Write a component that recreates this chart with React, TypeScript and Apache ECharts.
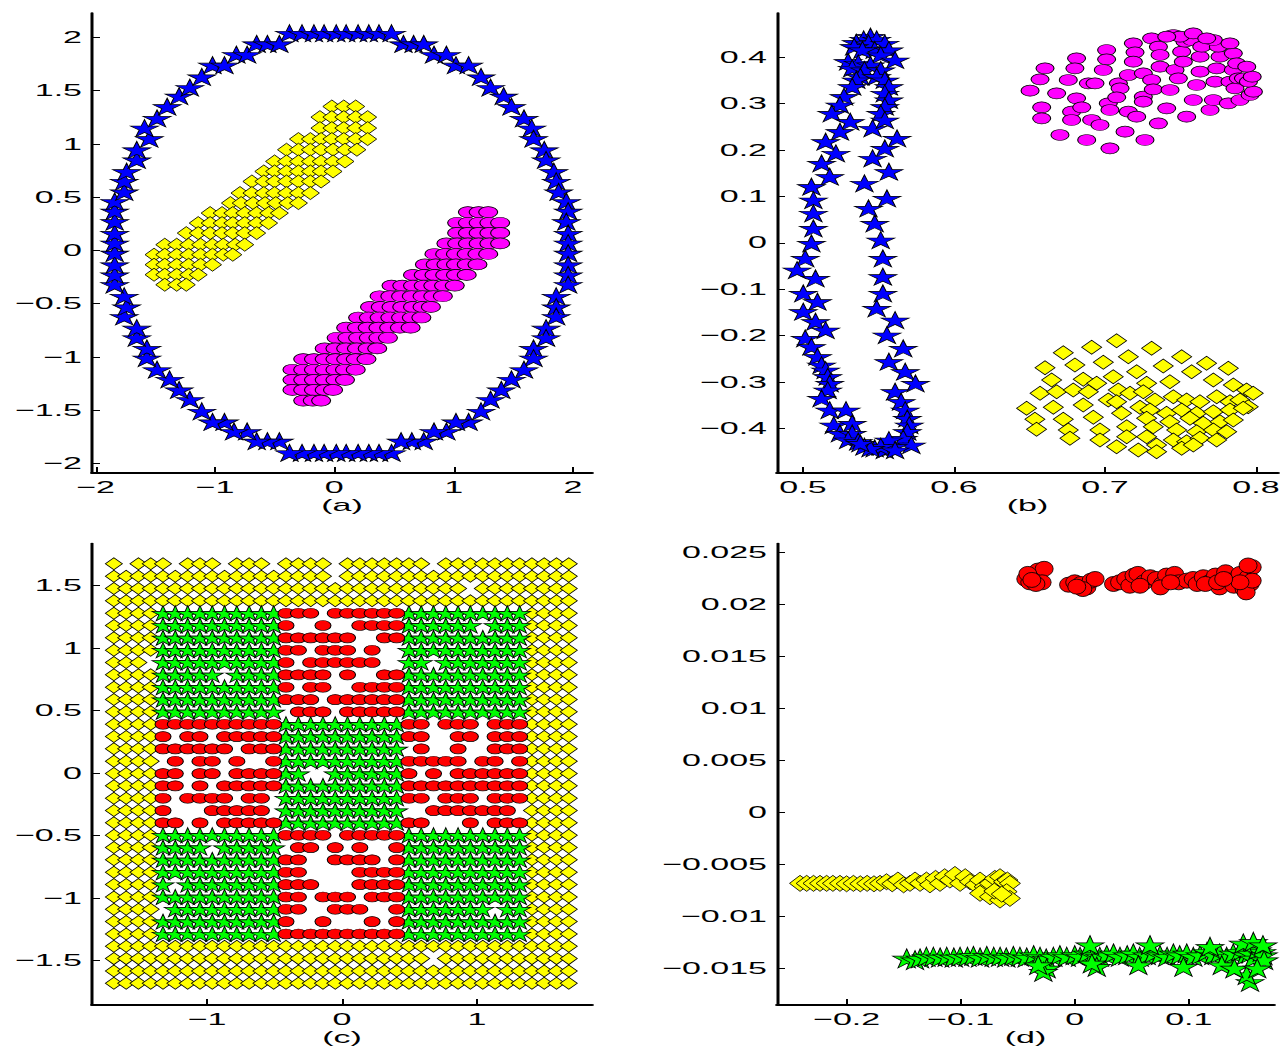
import React, { useEffect, useRef } from 'react';
import * as echarts from 'echarts';

// ---------- shared look ----------
const FONT = '"Liberation Sans", Arial, Helvetica, sans-serif';
const STRETCH = 2; // the reference figure is stretched horizontally
const STAR = 'path://M0,-10L2.245,-3.09L9.511,-3.09L3.633,1.18L5.878,8.09L0,3.82L-5.878,8.09L-3.633,1.18L-9.511,-3.09L-2.245,-3.09Z';
const ELLIPSE = 'path://M0,5A5,5 0 1,1 10,5A5,5 0 1,1 0,5Z';

// ---------- tick values ----------
const TICKS_A_X = [-2, -1, 0, 1, 2];
const TICKS_A_Y = [-2, -1.5, -1, -0.5, 0, 0.5, 1, 1.5, 2];
const TICKS_B_X = [0.5, 0.6, 0.7, 0.8];
const TICKS_B_Y = [-0.4, -0.3, -0.2, -0.1, 0, 0.1, 0.2, 0.3, 0.4];
const TICKS_C_X = [-1, 0, 1];
const TICKS_C_Y = [-1.5, -1, -0.5, 0, 0.5, 1, 1.5];
const TICKS_D_X = [-0.2, -0.1, 0, 0.1];
const TICKS_D_Y = [-0.015, -0.01, -0.005, 0, 0.005, 0.01, 0.015, 0.02, 0.025];
const CAPTIONS = ['(a)', '(b)', '(c)', '(d)'];

// ---------- (a) ----------
const STARS_A: number[][] = [
  [-0.375, 2.04], [-0.27, 2.04], [-0.17, 2.04], [-0.085, 2.04], [0.017, 2.04], [0.1, 2.04], [0.2, 2.04], [0.29, 2.04], [0.375, 2.04], [0.48, 2.04],
  [0.58, 1.94], [0.665, 1.94], [0.75, 1.94], [0.836, 1.84], [0.94, 1.84], [1.02, 1.74], [1.126, 1.74],
  [1.23, 1.63], [1.31, 1.53], [1.42, 1.45], [1.485, 1.35], [1.59, 1.24], [1.655, 1.15], [1.67, 1.05], [1.76, 0.945], [1.775, 0.85],
  [1.84, 0.74], [1.86, 0.65], [1.88, 0.55], [1.945, 0.46], [1.96, 0.37], [1.945, 0.27], [1.96, 0.16], [1.96, 0.07], [1.96, -0.025],
  [1.96, -0.135], [1.96, -0.23], [1.96, -0.32], [1.86, -0.43], [1.86, -0.53], [1.86, -0.62], [1.775, -0.73], [1.775, -0.82],
  [1.67, -0.92], [1.67, -1.01], [1.59, -1.12], [1.485, -1.21], [1.4, -1.31], [1.31, -1.4], [1.23, -1.51], [1.126, -1.61], [1.02, -1.61],
  [0.94, -1.7], [0.836, -1.7], [0.75, -1.79], [0.65, -1.79], [0.56, -1.79],
  [0.48, -1.9], [0.375, -1.9], [0.29, -1.9], [0.2, -1.9], [0.1, -1.9], [0.017, -1.9], [-0.085, -1.9], [-0.17, -1.9], [-0.27, -1.9], [-0.375, -1.9],
  [-0.46, -1.79], [-0.56, -1.79], [-0.65, -1.79], [-0.73, -1.7], [-0.84, -1.7], [-0.92, -1.61], [-1.02, -1.61], [-1.11, -1.51],
  [-1.21, -1.4], [-1.3, -1.31], [-1.38, -1.21], [-1.485, -1.12], [-1.57, -1.01], [-1.57, -0.92], [-1.655, -0.82], [-1.655, -0.73],
  [-1.76, -0.62], [-1.74, -0.53], [-1.76, -0.43],
  [-1.84, -0.32], [-1.84, -0.23], [-1.84, -0.135], [-1.84, -0.025], [-1.84, 0.07], [-1.84, 0.16], [-1.84, 0.27], [-1.84, 0.37], [-1.84, 0.46],
  [-1.76, 0.55], [-1.76, 0.65], [-1.74, 0.74], [-1.655, 0.85], [-1.655, 0.945], [-1.55, 1.05], [-1.59, 1.15], [-1.485, 1.24],
  [-1.4, 1.35], [-1.3, 1.45], [-1.21, 1.53], [-1.11, 1.63], [-1.02, 1.74], [-0.92, 1.74], [-0.82, 1.84], [-0.73, 1.84],
  [-0.65, 1.94], [-0.56, 1.94], [-0.46, 1.94],
];

// rows: [y, x values]
const DIAMOND_ROWS_A: [number, number[]][] = [
  [1.352, [-0.02, 0.08, 0.18]],
  [1.252, [-0.12, -0.02, 0.08, 0.18, 0.28]],
  [1.149, [-0.12, -0.02, 0.08, 0.18, 0.28]],
  [1.046, [-0.3, -0.2, -0.11, -0.02, 0.08, 0.18, 0.28]],
  [0.946, [-0.4, -0.3, -0.2, -0.11, -0.01, 0.09, 0.19]],
  [0.836, [-0.5, -0.4, -0.3, -0.2, -0.11, -0.01, 0.09]],
  [0.742, [-0.59, -0.5, -0.4, -0.3, -0.2, -0.11, -0.01]],
  [0.648, [-0.69, -0.59, -0.5, -0.4, -0.3, -0.2, -0.11]],
  [0.539, [-0.79, -0.69, -0.59, -0.5, -0.4, -0.3, -0.2]],
  [0.445, [-0.87, -0.78, -0.68, -0.58, -0.49, -0.39, -0.3]],
  [0.351, [-1.04, -0.94, -0.85, -0.75, -0.65, -0.55, -0.46]],
  [0.257, [-1.14, -1.04, -0.94, -0.85, -0.75, -0.65, -0.55]],
  [0.163, [-1.24, -1.14, -1.04, -0.94, -0.85, -0.75, -0.65]],
  [0.054, [-1.42, -1.32, -1.22, -1.12, -1.02, -0.93, -0.83, -0.75]],
  [-0.04, [-1.51, -1.42, -1.32, -1.22, -1.12, -1.02, -0.93, -0.85]],
  [-0.134, [-1.51, -1.42, -1.32, -1.22, -1.12, -1.02]],
  [-0.228, [-1.51, -1.42, -1.32, -1.22, -1.14]],
  [-0.322, [-1.42, -1.32, -1.24]],
];

const CIRCLE_ROWS_A: [number, number[]][] = [
  [0.36, [1.12, 1.21, 1.29]],
  [0.26, [1.03, 1.12, 1.21, 1.3, 1.39]],
  [0.165, [1.03, 1.12, 1.21, 1.3, 1.39]],
  [0.066, [0.94, 1.03, 1.12, 1.21, 1.3, 1.39]],
  [-0.033, [0.84, 0.93, 1.02, 1.11, 1.2, 1.29]],
  [-0.131, [0.76, 0.85, 0.94, 1.02, 1.11, 1.2]],
  [-0.23, [0.66, 0.75, 0.84, 0.93, 1.02, 1.11]],
  [-0.33, [0.48, 0.57, 0.66, 0.75, 0.83, 0.92, 1.01]],
  [-0.43, [0.38, 0.47, 0.56, 0.65, 0.74, 0.83, 0.91]],
  [-0.53, [0.3, 0.39, 0.48, 0.57, 0.66, 0.74, 0.81]],
  [-0.63, [0.2, 0.29, 0.38, 0.47, 0.56, 0.65, 0.73]],
  [-0.725, [0.1, 0.19, 0.28, 0.37, 0.46, 0.55, 0.64]],
  [-0.82, [0.02, 0.11, 0.2, 0.29, 0.37, 0.45]],
  [-0.92, [-0.08, 0.01, 0.1, 0.19, 0.28, 0.36]],
  [-1.02, [-0.26, -0.17, -0.08, 0.01, 0.1, 0.18, 0.27]],
  [-1.12, [-0.35, -0.26, -0.17, -0.08, 0.01, 0.09, 0.18]],
  [-1.215, [-0.35, -0.26, -0.17, -0.08, 0.01, 0.09]],
  [-1.31, [-0.35, -0.26, -0.17, -0.08, -0.01]],
  [-1.41, [-0.26, -0.18, -0.11]],
];

// ---------- (b) ----------
const STARS_B: number[][] = [
  [0.5447, 0.4446], [0.5402, 0.4388], [0.5488, 0.4388], [0.5353, 0.4317], [0.5434, 0.4302], [0.5542, 0.4302], [0.5339, 0.423],
  [0.5475, 0.4158], [0.5394, 0.4158], [0.5569, 0.4158], [0.5515, 0.405], [0.561, 0.3942], [0.5299, 0.3907], [0.5366, 0.3871],
  [0.5447, 0.3835], [0.5326, 0.3763], [0.5407, 0.3727], [0.5515, 0.3727], [0.538, 0.3583], [0.5488, 0.3583], [0.5542, 0.3511],
  [0.5353, 0.3511], [0.5569, 0.3367], [0.5326, 0.3367], [0.5542, 0.3224], [0.5569, 0.308], [0.5272, 0.3152], [0.5245, 0.2972],
  [0.5542, 0.2936], [0.5515, 0.2792], [0.5191, 0.2792], [0.5313, 0.2613], [0.5461, 0.2469], [0.5542, 0.2648], [0.5245, 0.2397],
  [0.5623, 0.2253], [0.515, 0.2181], [0.5542, 0.2037], [0.5218, 0.193], [0.5461, 0.1822], [0.5123, 0.1714], [0.5569, 0.1534],
  [0.5177, 0.1426], [0.5407, 0.1283], [0.5056, 0.1211], [0.5556, 0.0959], [0.5069, 0.0923], [0.5434, 0.0743], [0.5069, 0.0636],
  [0.5475, 0.042], [0.5069, 0.0312], [0.5515, 0.006], [0.5056, -0.0011], [0.5015, -0.0335], [0.5529, -0.0335], [0.4961, -0.0587],
  [0.5083, -0.0766], [0.5529, -0.073], [0.5002, -0.109], [0.5529, -0.109], [0.5096, -0.127], [0.5488, -0.1413], [0.5002, -0.1485],
  [0.561, -0.1665], [0.5083, -0.1701], [0.5556, -0.1989], [0.515, -0.1881], [0.5015, -0.206], [0.5056, -0.224], [0.5664, -0.2276],
  [0.5096, -0.2456], [0.5569, -0.2564], [0.5123, -0.2636], [0.5677, -0.2779], [0.515, -0.2743], [0.5164, -0.2887], [0.5745, -0.3031],
  [0.5177, -0.3031], [0.5164, -0.3175], [0.561, -0.3211], [0.5123, -0.3354], [0.565, -0.3426], [0.5177, -0.3606], [0.5285, -0.3606],
  [0.5677, -0.3606], [0.5691, -0.3786], [0.5204, -0.393], [0.5326, -0.3893], [0.5704, -0.393], [0.5691, -0.4073], [0.5245, -0.4109],
  [0.5326, -0.4109], [0.5664, -0.4217], [0.5299, -0.4253], [0.5366, -0.4289], [0.5718, -0.4361], [0.5407, -0.4397], [0.5475, -0.4433],
  [0.5542, -0.4469], [0.5596, -0.4397], [0.5569, -0.4253], [0.5515, -0.4397], [0.5447, -0.4433], [0.538, -0.4325], [0.561, -0.4469],
];

const CIRCLES_B: number[][] = [
  [0.6504, 0.328], [0.6603, 0.3762], [0.657, 0.3525], [0.6581, 0.2921], [0.6581, 0.2684], [0.6702, 0.2325], [0.668, 0.3223],
  [0.6757, 0.3511], [0.6812, 0.3978], [0.6801, 0.3762], [0.6812, 0.3115], [0.6779, 0.2828], [0.6779, 0.2648], [0.6879, 0.2217],
  [0.689, 0.3439], [0.6934, 0.3439], [0.6846, 0.2921], [0.6912, 0.2648], [0.6967, 0.254], [0.7033, 0.2037], [0.7011, 0.4157],
  [0.7011, 0.3956], [0.6989, 0.3726], [0.7022, 0.3007], [0.7033, 0.2864], [0.7089, 0.3439], [0.71, 0.3331], [0.7078, 0.3137],
  [0.7133, 0.2396], [0.7155, 0.3618], [0.7155, 0.2828], [0.721, 0.272], [0.7188, 0.4301], [0.7199, 0.4107], [0.7188, 0.3906],
  [0.7254, 0.3654], [0.7254, 0.3151], [0.7254, 0.3043], [0.7265, 0.2217], [0.7309, 0.3511], [0.732, 0.3309], [0.7354, 0.2576],
  [0.7309, 0.4409], [0.7354, 0.4229], [0.7365, 0.405], [0.7365, 0.3798], [0.7409, 0.29], [0.7431, 0.3295], [0.7464, 0.3726],
  [0.7486, 0.3547], [0.7541, 0.272], [0.7508, 0.4122], [0.7519, 0.3906], [0.753, 0.4337], [0.7574, 0.4373], [0.7607, 0.3403],
  [0.7585, 0.3079], [0.763, 0.369], [0.763, 0.4014], [0.7641, 0.4229], [0.7696, 0.2864], [0.7718, 0.3079], [0.7729, 0.3475],
  [0.774, 0.3762], [0.7762, 0.4014], [0.7751, 0.4229], [0.7817, 0.3007], [0.7828, 0.3475], [0.785, 0.3726], [0.785, 0.4086],
  [0.7861, 0.3331], [0.7872, 0.387], [0.7883, 0.3547], [0.7917, 0.3547], [0.7894, 0.3079], [0.7961, 0.3187], [0.7983, 0.3259],
  [0.795, 0.3475], [0.7975, 0.3582], [0.7939, 0.3798], [0.7718, 0.4373], [0.7828, 0.4301], [0.7453, 0.4481], [0.7497, 0.4445],
  [0.7409, 0.4445], [0.7585, 0.4517], [0.7674, 0.4409],
];

const DIAMONDS_B: number[][] = [
  [0.7077, -0.211], [0.6912, -0.2254], [0.6724, -0.2369], [0.7309, -0.2276], [0.7155, -0.2455], [0.7508, -0.2455], [0.7673, -0.2599],
  [0.7817, -0.2707], [0.6603, -0.2693], [0.6801, -0.2635], [0.6989, -0.2578], [0.721, -0.2779], [0.7386, -0.2657], [0.7574, -0.2779],
  [0.6647, -0.2959], [0.6856, -0.2944], [0.7055, -0.2887], [0.7276, -0.303], [0.743, -0.2995], [0.7718, -0.2959], [0.785, -0.3066],
  [0.7938, -0.3174], [0.7982, -0.3246], [0.657, -0.3246], [0.668, -0.321], [0.679, -0.3174], [0.689, -0.321], [0.6945, -0.303],
  [0.7088, -0.3174], [0.7166, -0.3246], [0.7254, -0.321], [0.7331, -0.339], [0.7453, -0.3318], [0.7541, -0.339], [0.7629, -0.3426],
  [0.774, -0.3318], [0.7828, -0.3426], [0.7894, -0.339], [0.7949, -0.3534], [0.6481, -0.357], [0.6658, -0.3548], [0.6856, -0.3498],
  [0.7022, -0.339], [0.7077, -0.3426], [0.7232, -0.3548], [0.7298, -0.3606], [0.7408, -0.3677], [0.7508, -0.3606], [0.7607, -0.3677],
  [0.7718, -0.3641], [0.7828, -0.3606], [0.7916, -0.357], [0.6536, -0.3807], [0.6724, -0.3807], [0.6923, -0.3764], [0.711, -0.3677],
  [0.7276, -0.3785], [0.743, -0.3857], [0.7563, -0.3785], [0.7651, -0.3893], [0.7762, -0.3857], [0.785, -0.3821], [0.6547, -0.4022],
  [0.6757, -0.4037], [0.6967, -0.4037], [0.7144, -0.3965], [0.732, -0.3965], [0.7475, -0.4037], [0.7607, -0.4073], [0.7718, -0.4037],
  [0.7806, -0.4073], [0.6768, -0.4216], [0.6967, -0.4252], [0.7144, -0.418], [0.7276, -0.418], [0.7342, -0.436], [0.7453, -0.4252],
  [0.7541, -0.4288], [0.7629, -0.4216], [0.774, -0.4252], [0.7221, -0.4468], [0.7342, -0.4504], [0.7077, -0.4396], [0.7508, -0.4432],
  [0.7585, -0.436],
];

// ---------- (c) : lattice ----------
const COLS_C = [
  -1.69, -1.599, -1.508, -1.417, -1.326, -1.235, -1.143, -1.052, -0.961, -0.87, -0.779, -0.688, -0.597, -0.506,
  -0.415, -0.323, -0.232, -0.141, -0.05, 0.041, 0.132, 0.223, 0.314, 0.405, 0.496, 0.587, 0.678, 0.769, 0.86,
  0.951, 1.043, 1.134, 1.225, 1.316, 1.407, 1.498, 1.589, 1.68,
];
const ROWS_C = [
  1.675, 1.576, 1.478, 1.379, 1.28, 1.182, 1.083, 0.984, 0.886, 0.787, 0.688, 0.589, 0.491, 0.392, 0.293, 0.195,
  0.096, -0.003, -0.101, -0.2, -0.299, -0.397, -0.496, -0.595, -0.693, -0.792, -0.891, -0.99, -1.088, -1.187,
  -1.286, -1.384, -1.483, -1.582, -1.68,
];
// d = yellow diamond, s = green star, o = red circle, . = empty
const MAP_C = [
  'd.dd|d.ddd.ddd.|dddd.ddddd|dd.ddddddd|dddd',
  'dddd|dddddddddd|dddd.ddddd|dddddddddd|dddd',
  'dddd|dddddddddd|dddddddddd|ddddd.dddd|dddd',
  'dddd|dddddddddd|dddddddddd|dddddddddd|dddd',
  'dddd|ssssssssss|ooo.oooooo|ssssssssss|dddd',
  'dddd|ssssssssss|o..o..oooo|ssssss.sss|dddd',
  'dddd|ssssssssss|oooooo..oo|ssssssssss|dddd',
  'dddd|ssssssssss|oo.ooo.o..|ssssssssss|dddd',
  'ddd.|ssssssssss|o.oooooo..|ss.sssssss|dddd',
  'dddd|sssss.ssss|oooo.o..oo|ssssssssss|dddd',
  'dddd|ssssssssss|o.oo..oooo|ssssssssss|dddd',
  'dddd|ssssssssss|ooo.oooooo|ssssssssss|dddd',
  'dddd|ssssssssss|.ooo.ooooo|ssssssssss|dddd',
  'dddd|oooooooooo|ssssssssss|oo.ooo.ooo|dddd',
  'dddd|o.oo.ooooo|ssssssssss|oo..oo.ooo|dddd',
  'dddd|oooooo.ooo|ssssssssss|.o..o..ooo|dddd',
  'dddd|.o.oo.o..o|ssssssssss|ooooo.oo.o|dddd',
  'dddd|oo.oo.oooo|ss..ssssss|o.o.oooooo|dddd',
  'dddd|oo.o.ooooo|ssssssssss|oooooooooo|dddd',
  'dddd|o.oooo.oo.|ssssssssss|oo.ooo.ooo|dddd',
  'dddd|o...ooooo.|ssssssssss|..ooooooo.|dddd',
  'dddd|oo.o.ooooo|ssssssssss|oo...o.ooo|dddd',
  'dddd|ssssssssss|oooo.ooooo|ssssssssss|dddd',
  'dddd|ssss.sssss|.oo.o.o..o|ssssssssss|dddd',
  'dddd|ssssssssss|oo..oooo.o|ssssssssss|dddd',
  'dddd|ssssssssss|oo....oooo|ssssssssss|dddd',
  'dddd|s.ssssssss|ooo...oooo|ssssssssss|dddd',
  'dddd|ssssssssss|oo.ooo.ooo|ssssssssss|dddd',
  'dddd|.sssssssss|oo..ooo..o|sssssss.ss|dddd',
  'dddd|ssssssssss|o..o...o.o|ssssssssss|dddd',
  'dddd|ssssssssss|oooooooooo|ssssssssss|dddd',
  'dddd|dddddddddd|dddddddddd|dddddddddd|dddd',
  'dddd|dddddddddd|dddddddddd|dd.ddddddd|dddd',
  'dddd|dddddddddd|dddddddddd|dddddddddd|dddd',
  'dddd|dddddddddd|dddddddddd|dddddddddd|dddd',
];

// ---------- (d) ----------
const CIRCLES_D: number[][] = [
  [-0.0429, 0.02247], [-0.0394, 0.02215], [-0.0358, 0.0228], [-0.0322, 0.02328], [-0.0268, 0.02345], [-0.0286, 0.02215],
  [-0.0411, 0.02296], [-0.034, 0.02199], [-0.0376, 0.02238],
  [-0.0054, 0.02192], [0.0, 0.02215], [0.0054, 0.02199], [0.0107, 0.02166], [0.0143, 0.02231], [0.0179, 0.02247],
  [0.0071, 0.0215], [0.0018, 0.02173],
  [0.034, 0.02199], [0.0393, 0.02215], [0.0447, 0.02247], [0.0483, 0.02182], [0.0519, 0.0228], [0.0554, 0.02296],
  [0.0608, 0.02215], [0.0662, 0.02264], [0.0715, 0.02247], [0.0769, 0.02199], [0.0805, 0.0228], [0.0876, 0.02296],
  [0.0912, 0.02215], [0.0983, 0.02231], [0.1038, 0.02247], [0.1073, 0.02199], [0.1127, 0.02264], [0.1181, 0.02215],
  [0.1234, 0.0228], [0.127, 0.02166], [0.1323, 0.02312], [0.1359, 0.02231], [0.1395, 0.02182], [0.1431, 0.02247],
  [0.1449, 0.02296], [0.1485, 0.0215], [0.152, 0.02264], [0.1538, 0.02199], [0.1556, 0.02361], [0.152, 0.02377],
  [0.1503, 0.02118], [0.1556, 0.02231], [0.0751, 0.02166], [0.0841, 0.02215], [0.0572, 0.02182], [0.1145, 0.02199],
  [0.1252, 0.02215], [0.1449, 0.02215], [0.1306, 0.02247],
];

const DIAMONDS_D: number[][] = [
  [-0.2408, -0.00686], [-0.235, -0.00686], [-0.229, -0.00686], [-0.2233, -0.00686], [-0.2175, -0.00686], [-0.212, -0.00686],
  [-0.2058, -0.00686], [-0.2, -0.0069], [-0.194, -0.00686], [-0.188, -0.0069], [-0.182, -0.00686], [-0.176, -0.0069],
  [-0.1707, -0.00686], [-0.165, -0.0067], [-0.16, -0.0069], [-0.155, -0.00654], [-0.15, -0.007], [-0.1444, -0.00686],
  [-0.14, -0.00654], [-0.1356, -0.00686], [-0.13, -0.00654], [-0.1269, -0.007], [-0.122, -0.00638], [-0.1181, -0.00686],
  [-0.114, -0.00622], [-0.1094, -0.00654], [-0.105, -0.006], [-0.1005, -0.00686], [-0.096, -0.00622], [-0.0918, -0.0067],
  [-0.087, -0.007], [-0.083, -0.00654], [-0.079, -0.00718], [-0.0743, -0.00686], [-0.07, -0.00638], [-0.0655, -0.00622],
  [-0.062, -0.0067], [-0.059, -0.00654], [-0.0568, -0.00686], [-0.083, -0.00782], [-0.0743, -0.00815], [-0.0655, -0.00847],
  [-0.0597, -0.00766], [-0.0568, -0.00831], [-0.0705, -0.0076], [-0.064, -0.0079],
];

const STARS_D: number[][] = [
  [-0.1473, -0.01409], [-0.14, -0.01425], [-0.1356, -0.01409], [-0.13, -0.01393], [-0.1239, -0.01393], [-0.118, -0.014],
  [-0.1122, -0.01393], [-0.106, -0.014], [-0.1005, -0.01393], [-0.094, -0.01393], [-0.0888, -0.01385], [-0.083, -0.014],
  [-0.0771, -0.01385], [-0.071, -0.01393], [-0.0654, -0.01393], [-0.06, -0.014], [-0.0538, -0.01385], [-0.048, -0.01393],
  [-0.0421, -0.014], [-0.036, -0.01377], [-0.0304, -0.01393], [-0.025, -0.01409], [-0.0187, -0.01393], [-0.013, -0.01377],
  [-0.007, -0.01393], [0.0, -0.01377], [0.0047, -0.01393], [0.011, -0.01361], [0.0164, -0.01377], [0.022, -0.01393],
  [0.0281, -0.01377], [0.034, -0.01361], [0.0397, -0.01393], [0.046, -0.01377], [0.0514, -0.01361], [0.057, -0.01393],
  [0.0631, -0.01377], [0.069, -0.01361], [0.0748, -0.01377], [0.081, -0.01393], [0.0865, -0.01361], [0.092, -0.01377],
  [0.0982, -0.01361], [0.104, -0.01393], [0.1099, -0.01377], [0.116, -0.01345], [0.1215, -0.01377], [0.127, -0.01361],
  [0.1332, -0.01393], [0.139, -0.01361], [0.1449, -0.01345], [0.15, -0.01377], [0.154, -0.01361], [0.1566, -0.01409],
  [0.16, -0.01329], [0.164, -0.01345], [0.1654, -0.01377], [0.166, -0.01425],
  [-0.0246, -0.01505], [-0.0275, -0.01537], [0.0193, -0.01489], [0.0558, -0.01473], [0.0953, -0.01489], [0.1289, -0.01473],
  [0.1537, -0.01634], [0.1508, -0.0157], [-0.032, -0.01473], [0.015, -0.01457], [0.14, -0.01505], [0.16, -0.01505],
  [0.0134, -0.01281], [0.066, -0.01281], [0.1186, -0.01297], [0.1478, -0.01265], [0.1566, -0.01249], [0.165, -0.01281],
];

// ---------- helpers ----------
function fromRows(rows: [number, number[]][]) {
  const out: number[][] = [];
  rows.forEach(([y, xs]) => xs.forEach((x) => out.push([x, y])));
  return out;
}
function fromMap(ch: string) {
  const out: number[][] = [];
  MAP_C.forEach((row, i) => {
    const r = row.replace(/\|/g, '');
    for (let j = 0; j < r.length; j++) if (r[j] === ch) out.push([COLS_C[j], ROWS_C[i]]);
  });
  return out;
}
const fmt = (v: number) => String(v).replace('-', '\u2212');
const textStyle = { fontSize: 17, color: '#000', fontFamily: FONT };

function xAxis(gridIndex: number, min: number, max: number, ticks: number[], name: string) {
  return {
    type: 'value', gridIndex, min, max, name, nameLocation: 'middle', nameGap: 24,
    nameTextStyle: textStyle,
    axisLine: { show: true, onZero: false, lineStyle: { color: '#000', width: 2 } },
    axisTick: { show: true, inside: true, length: 6, customValues: ticks, lineStyle: { color: '#000', width: 1 } },
    axisLabel: { show: true, margin: 6, customValues: ticks, formatter: fmt, ...textStyle },
    splitLine: { show: false },
  };
}
function yAxis(gridIndex: number, min: number, max: number, ticks: number[]) {
  return {
    type: 'value', gridIndex, min, max,
    axisLine: { show: true, onZero: false, lineStyle: { color: '#000', width: 1.5 } },
    axisTick: { show: true, inside: true, length: 4, customValues: ticks, lineStyle: { color: '#000', width: 1 } },
    axisLabel: { show: true, margin: 5, customValues: ticks, formatter: fmt, ...textStyle },
    splitLine: { show: false },
  };
}
function scatter(idx: number, data: number[][], symbol: string, size: number[], color: string) {
  return {
    type: 'scatter', xAxisIndex: idx, yAxisIndex: idx, data, symbol, symbolSize: size,
    itemStyle: { color, borderColor: '#000', borderWidth: 0.6, opacity: 1 },
    silent: true, progressive: 0, animation: false, emphasis: { disabled: true },
  };
}

const W = 1283 / STRETCH;
const H = 1048;

export default function App() {
  const ref = useRef<HTMLDivElement>(null);
  useEffect(() => {
    if (!ref.current) return;
    const chart = echarts.init(ref.current, undefined, { renderer: 'svg', width: W, height: H });
    const grid = (left: number, top: number, width: number, height: number) => ({
      left, top, width, height, containLabel: false, outerBoundsMode: 'none',
    });
    chart.setOption({
      animation: false,
      backgroundColor: '#fff',
      grid: [
        grid(46, 13, 250, 460),
        grid(388.5, 13, 250.5, 460),
        grid(46, 543.6, 250, 461.4),
        grid(388.5, 543.6, 248.5, 461.4),
      ],
      xAxis: [
        xAxis(0, -2.03, 2.16, TICKS_A_X, CAPTIONS[0]),
        xAxis(1, 0.4828, 0.8146, TICKS_B_X, CAPTIONS[1]),
        xAxis(2, -1.852, 1.852, TICKS_C_X, CAPTIONS[2]),
        xAxis(3, -0.261, 0.1747, TICKS_D_X, CAPTIONS[3]),
      ],
      yAxis: [
        yAxis(0, -2.09, 2.23, TICKS_A_Y),
        yAxis(1, -0.4964, 0.4955, TICKS_B_Y),
        yAxis(2, -1.854, 1.837, TICKS_C_Y),
        yAxis(3, -0.01858, 0.02588, TICKS_D_Y),
      ],
      series: [
        scatter(0, STARS_A, STAR, [14, 17], '#0000ff'),
        scatter(0, fromRows(DIAMOND_ROWS_A), 'diamond', [9, 13], '#ffff00'),
        scatter(0, fromRows(CIRCLE_ROWS_A), ELLIPSE, [9.5, 11], '#ff00ff'),
        scatter(1, STARS_B, STAR, [14, 17], '#0000ff'),
        scatter(1, CIRCLES_B, ELLIPSE, [9, 11], '#ff00ff'),
        scatter(1, DIAMONDS_B, 'diamond', [10, 14], '#ffff00'),
        scatter(2, fromMap('d'), 'diamond', [8.5, 12], '#ffff00'),
        scatter(2, fromMap('s'), STAR, [11, 15], '#00ff00'),
        scatter(2, fromMap('o'), ELLIPSE, [8, 10], '#ff0000'),
        scatter(3, DIAMONDS_D, 'diamond', [10.5, 16], '#ffff00'),
        scatter(3, STARS_D, STAR, [14, 19], '#00ff00'),
        scatter(3, CIRCLES_D, ELLIPSE, [9, 15], '#ff0000'),
      ],
    });
    return () => chart.dispose();
  }, []);
  return (
    <div
      ref={ref}
      style={{
        position: 'fixed', left: 0, top: 0, width: W, height: H,
        transform: `scaleX(${STRETCH})`, transformOrigin: '0 0', background: '#fff',
      }}
    />
  );
}
